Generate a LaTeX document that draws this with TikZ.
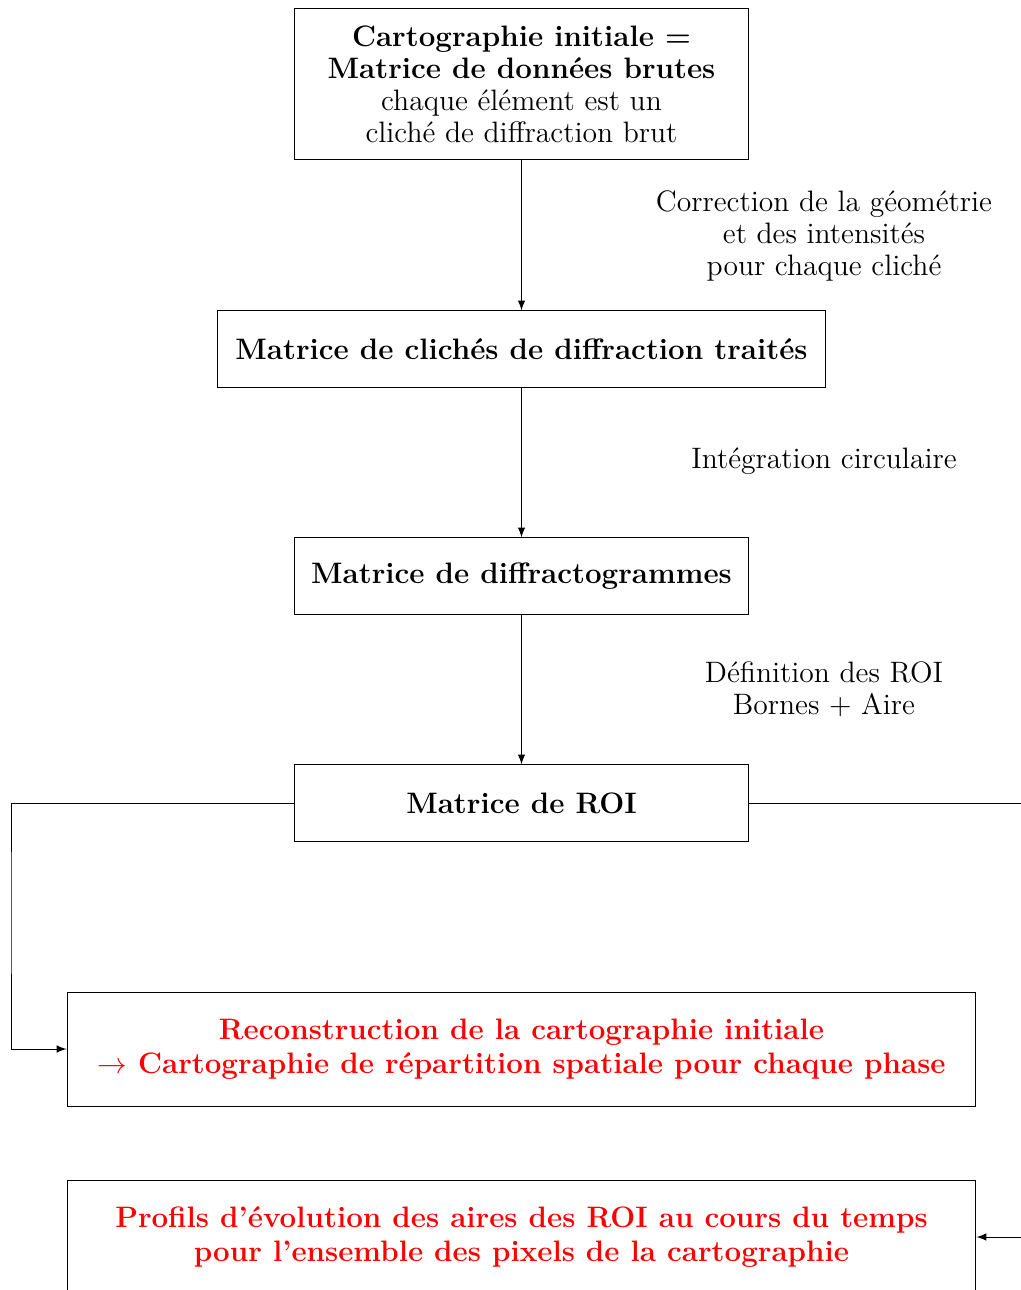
\documentclass[tikz,border=0pt]{standalone}
\usetikzlibrary{arrows}
\newcommand{\taille}{\fontsize{12pt}{13pt}\selectfont}
\begin{document}
\begin{tikzpicture}[x=0.406pt,y=-0.406pt,font=\taille,
	boite/.style={draw,align=center,minimum width=184.7pt,minimum height=30.9pt,inner sep=2pt},
	titre/.style={boite,font=\taille\bfseries},
	large/.style={boite,minimum width=369pt,minimum height=46.3pt,text=red,font=\fontsize{12pt}{14pt}\selectfont\bfseries},
	etape/.style={align=center},
	fleche/.style={-latex}]
	\useasboundingbox (0,0) rectangle (1021,1290);
	\clip (0,0) rectangle (1021,1290);
	% boites
	\node[boite,minimum height=61.7pt] (brut) at (521.5,84) {\textbf{Cartographie initiale =}\\\textbf{Matrice de données brutes}\\chaque élément est un\\cliché de diffraction brut};
	\node[titre,inner xsep=7.2pt] (traites) at (521.5,349) {Matrice de clichés de diffraction traités};
	\node[titre] (diffracto) at (521.5,576) {Matrice de diffractogrammes};
	\node[titre] (roi) at (521.5,803) {Matrice de ROI};
	\node[large] (recons) at (521.5,1049) {Reconstruction de la cartographie initiale\\$\rightarrow$ Cartographie de répartition spatiale pour chaque phase};
	\node[large] (profils) at (521.5,1237) {Profils d'évolution des aires des ROI au cours du temps\\pour l'ensemble des pixels de la cartographie};
	% etapes
	\node[etape] (corr) at (824,236) {Correction de la géométrie\\et des intensités\\pour chaque cliché};
	\node[etape] (integ) at (824,461) {Intégration circulaire};
	\node[etape] (def) at (824,689) {Définition des ROI\\Bornes + Aire};
	% fleches
	\draw[fleche] (brut) -- (traites);
	\draw[fleche] (traites) -- (diffracto);
	\draw[fleche] (diffracto) -- (roi);
	\draw[fleche] (roi.west) -| (11,900) |- (recons.west);
	\draw[fleche] (roi.east) -| (1032,1000) |- (profils.east);
\end{tikzpicture}
\end{document}
